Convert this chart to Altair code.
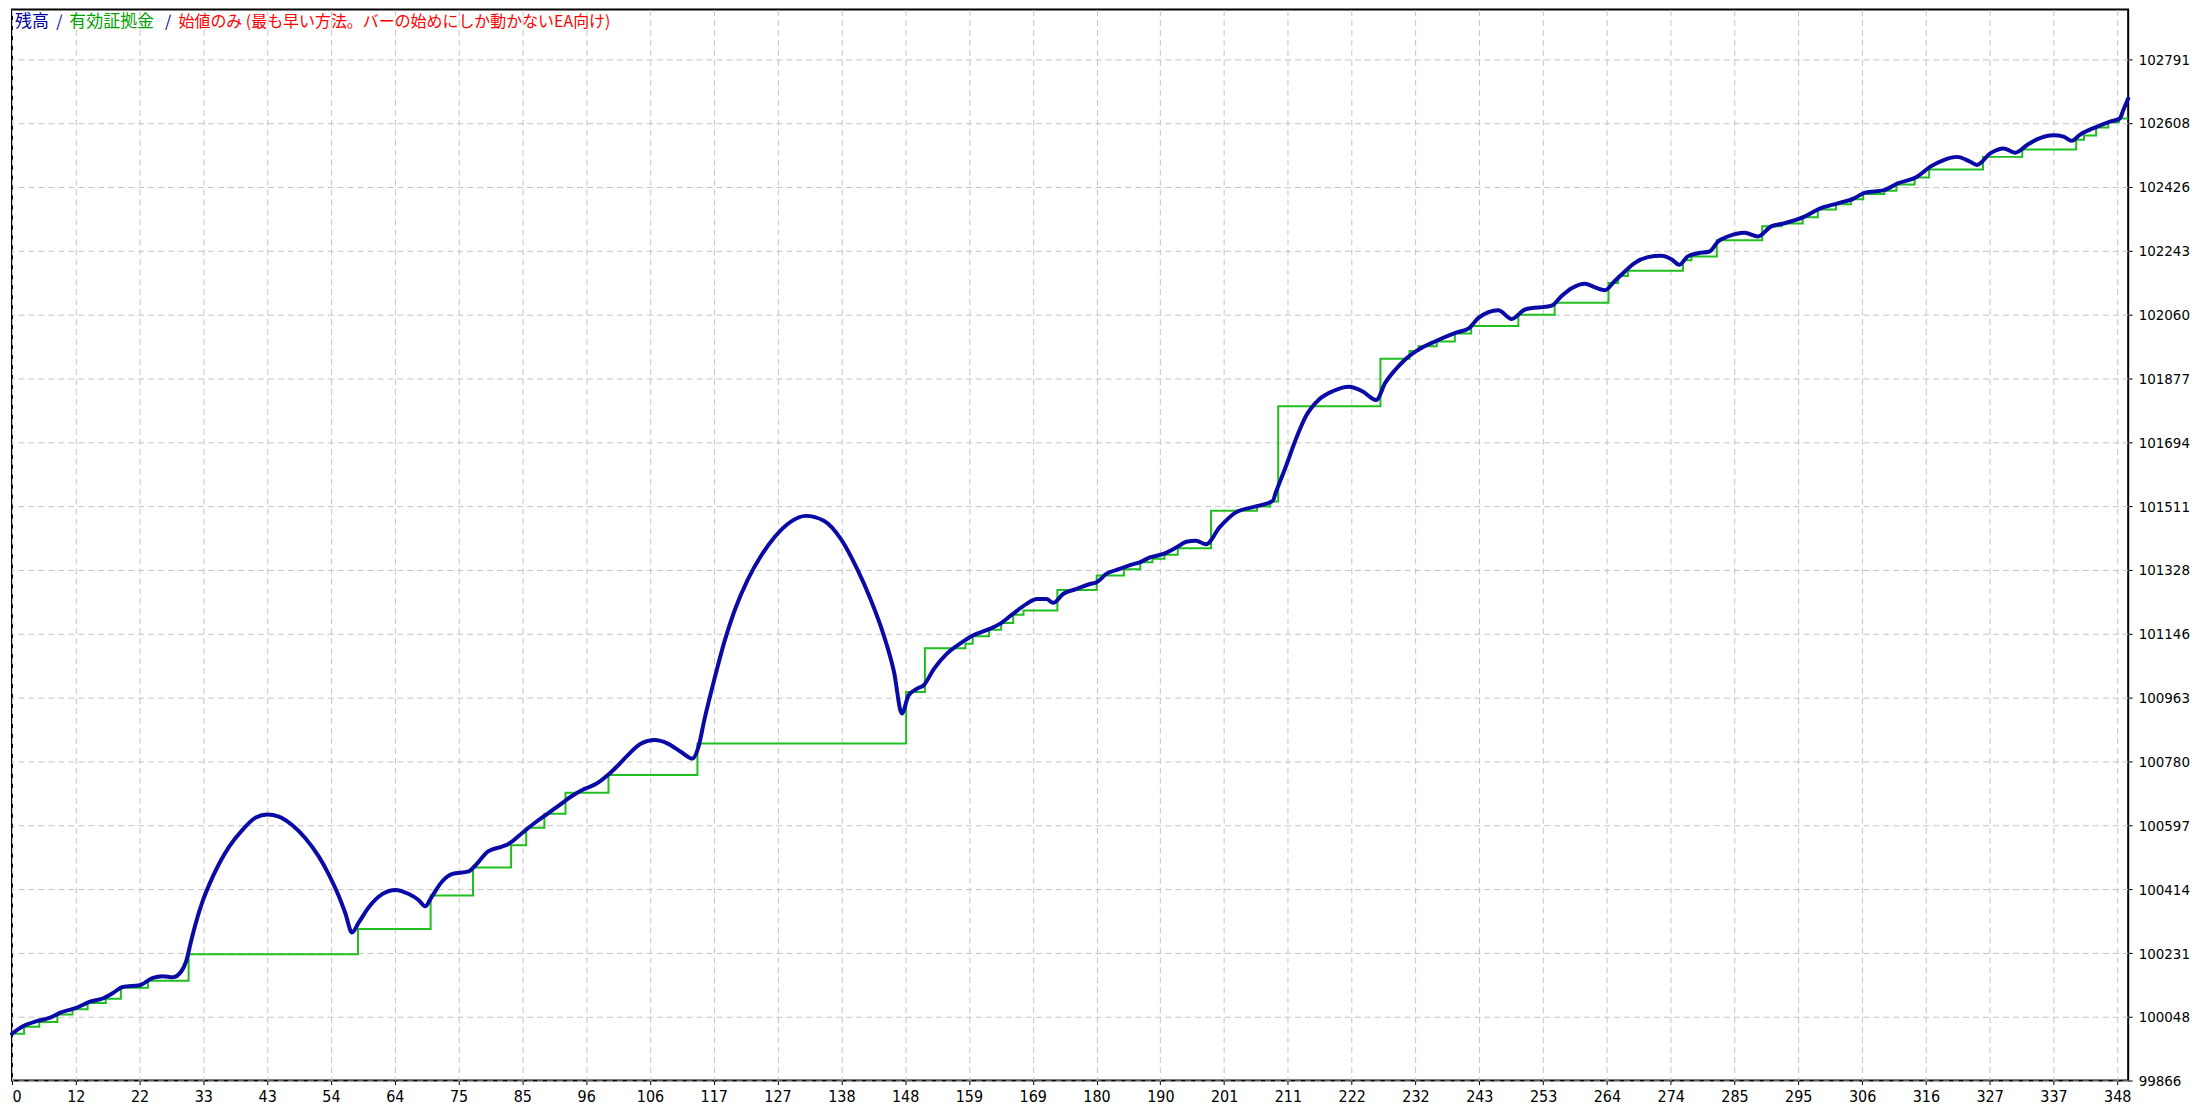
import altair as alt
import pandas as pd

# ---------------- data ----------------
BAL_TRADE = [0, 1.9, 4.1, 6.3, 7.9, 10.6, 12.9, 15.0, 16.7, 18.3, 21.1, 23.3, 24.9, 26.6, 28.0, 28.8,
             29.6, 30.4, 31.5, 32.6, 34.3, 35.9, 38.1, 40.3, 42.2, 44.1, 46.3, 48.5, 50.7, 52.4, 54.0,
             55.1, 56.2, 57.3, 59.0, 61.2, 63.4, 65.6, 67.2, 68.3, 69.4, 71.1, 72.7, 75.5, 76.6, 78.7,
             81.0, 82.0, 84.0, 86.5, 88.5, 90.5, 92.5, 94.5, 96.5, 98.5, 100.2, 101.8, 104.0, 106.2,
             108.4, 110.6, 112.5, 113.4, 114.5, 116.1, 117.8, 119.4, 121.6, 123.8, 126.0, 128.7, 131.2,
             134.2, 137.0, 139.7, 141.9, 144.1, 145.8, 147.1, 148.2, 149.6, 150.7, 152.4, 154.5, 156.7,
             158.9, 161.7, 163.5, 165.5, 167.7, 169.4, 171.0, 172.1, 173.8, 176.0, 178.2, 179.3, 180.9,
             183.1, 184.8, 186.4, 188.1, 190.3, 192.5, 194.1, 195.7, 197.4, 199.6, 202.3, 205.6, 208.4,
             208.9, 210.6, 212.2, 213.9, 216.1, 218.3, 221.0, 223.2, 225.5, 227.0, 228.7, 230.3, 232.5,
             235.3, 238.6, 240.8, 242.4, 245.7, 247.9, 250.1, 254.5, 256.1, 257.8, 260.0, 261.6, 263.3,
             264.9, 266.6, 268.2, 270.4, 272.6, 274.3, 275.6, 277.0, 278.7, 280.6, 282.0, 283.6, 286.4,
             288.6, 290.8, 293.0, 296.3, 299.0, 301.8, 304.5, 306.2, 309.5, 311.7, 314.9, 317.1, 319.3,
             321.5, 323.7, 324.8, 327.0, 329.2, 331.1, 333.1, 334.7, 337.5, 339.1, 340.5, 341.8, 344.6,
             346.8, 348.4, 349.0, 349.8]
BALANCE = [100000, 100022, 100036, 100046, 100060, 100074, 100092, 100101, 100117, 100134, 100139,
           100160, 100165, 100162, 100179, 100208, 100265, 100318, 100379, 100427, 100489, 100536,
           100584, 100619, 100628, 100622, 100598, 100560, 100508, 100455, 100395, 100345, 100290,
           100318, 100363, 100400, 100412, 100400, 100383, 100365, 100393, 100436, 100457, 100465,
           100482, 100522, 100536, 100543, 100570, 100605, 100630, 100655, 100680, 100700, 100715,
           100741, 100769, 100798, 100831, 100841, 100831, 100807, 100788, 100817, 100903, 101015,
           101125, 101210, 101300, 101368, 101421, 101466, 101483, 101469, 101417, 101331, 101245,
           101141, 101036, 100917, 100969, 100988, 100998, 101045, 101088, 101117, 101141, 101160,
           101176, 101203, 101231, 101245, 101245, 101234, 101260, 101274, 101288, 101293, 101317,
           101331, 101342, 101350, 101364, 101374, 101393, 101409, 101412, 101402, 101450, 101493,
           101510, 101526, 101550, 101626, 101702, 101769, 101817, 101840, 101853, 101840, 101815,
           101864, 101902, 101931, 101959, 101983, 102007, 102020, 102050, 102072, 102047, 102074,
           102085, 102112, 102135, 102148, 102138, 102129, 102155, 102183, 102207, 102224, 102228,
           102218, 102202, 102226, 102235, 102240, 102269, 102283, 102294, 102283, 102312, 102321,
           102340, 102364, 102378, 102392, 102408, 102416, 102435, 102454, 102483, 102502, 102511,
           102497, 102488, 102521, 102535, 102523, 102545, 102561, 102573, 102569, 102557, 102574,
           102597, 102612, 102621, 102645, 102678]

EQ_TRADE = [0, 2.0, 4.5, 7.5, 10.0, 12.5, 15.5, 18.0, 22.5, 29.2, 57.2, 69.2, 76.2, 82.5, 85.0, 88.0,
            91.5, 98.6, 113.3, 147.8, 150.9, 157.6, 158.8, 161.5, 163.5, 165.5, 167.2, 172.8, 179.3,
            183.8, 186.5, 188.5, 190.5, 192.7, 198.2, 205.8, 208.0, 209.3, 226.2, 231.0, 232.5, 235.5,
            238.5, 241.2, 249.0, 255.0, 263.9, 265.5, 267.1, 276.2, 277.6, 281.8, 289.3, 292.5, 296.0,
            298.5, 301.5, 304.0, 306.0, 309.5, 311.5, 314.5, 316.9, 325.8, 332.3, 341.2, 342.5, 344.5,
            346.5, 348.3, 349.8]
EQUITY = [100000, 100020, 100034, 100055, 100070, 100088, 100100, 100132, 100152, 100228, 100300,
          100396, 100476, 100540, 100590, 100630, 100690, 100741, 100831, 100979, 101104, 101117,
          101138, 101157, 101176, 101200, 101212, 101271, 101312, 101330, 101350, 101360, 101372,
          101390, 101498, 101510, 101524, 101797, 101933, 101955, 101969, 101982, 102005, 102027,
          102059, 102093, 102150, 102170, 102185, 102215, 102226, 102272, 102312, 102320, 102338,
          102360, 102375, 102390, 102405, 102414, 102432, 102452, 102475, 102511, 102532, 102560,
          102572, 102595, 102610, 102621, 102621]

X_TICK_LABELS = [0, 12, 22, 33, 43, 54, 64, 75, 85, 96, 106, 117, 127, 138, 148, 159, 169, 180,
                 190, 201, 211, 222, 232, 243, 253, 264, 274, 285, 295, 306, 316, 327, 337, 348]
Y_TICK_LABELS = [99866, 100048, 100231, 100414, 100597, 100780, 100963, 101146, 101328, 101511,
                 101694, 101877, 102060, 102243, 102426, 102608, 102791]

LEGEND_PARTS = ["残高", "/", "有効証拠金", "/", "始値のみ (最も早い方法。バーの始めにしか動かないEA向け)"]

# ---------------- chart ----------------
W, H = 2122, 1074
BLUE = "#0a0aa6"
GREEN = "#1fbf1f"
GRID = "#c4c4c4"
AXFONT = "DejaVu Sans Condensed, DejaVu Sans"

bal_df = pd.DataFrame({"trade": BAL_TRADE, "value": BALANCE, "series": "残高"})
eq_df = pd.DataFrame({"trade": EQ_TRADE, "value": EQUITY, "series": "有効証拠金"})

last = X_TICK_LABELS[-1]
n_int = len(X_TICK_LABELS) - 1
x_tick_pos = [k * last / n_int for k in range(len(X_TICK_LABELS))]
x_label_expr = f"{X_TICK_LABELS}[round(datum.value * {n_int} / {last})]"

x_scale = alt.Scale(domain=[0, 349.8], nice=False, zero=False)
y_scale = alt.Scale(domain=[99866, 102933], nice=False, zero=False)

x_axis = alt.Axis(values=x_tick_pos, labelExpr=x_label_expr, title=None, grid=True,
                  gridColor=GRID, gridDash=[6, 4], gridWidth=1, domain=False,
                  ticks=True, tickColor="#000", tickSize=4, tickWidth=1,
                  labelFont=AXFONT, labelFontSize=16, labelColor="#000", labelPadding=4,
                  labelFlush=1, labelOverlap=False)
y_axis = alt.Axis(values=Y_TICK_LABELS, format="d", title=None, orient="right", grid=True,
                  gridColor=GRID, gridDash=[6, 4], gridWidth=1, domain=False,
                  ticks=True, tickColor="#000", tickSize=4, tickWidth=1,
                  labelFont=AXFONT, labelFontSize=15, labelColor="#000", labelPadding=6,
                  labelOverlap=False)

equity = alt.Chart(eq_df).mark_line(color=GREEN, strokeWidth=2, interpolate="step-after").encode(
    x=alt.X("trade:Q", scale=x_scale, axis=x_axis),
    y=alt.Y("value:Q", scale=y_scale, axis=y_axis),
)
balance = alt.Chart(bal_df).mark_line(color=BLUE, strokeWidth=4, strokeJoin="round",
                                      strokeCap="round", interpolate="monotone").encode(
    x=alt.X("trade:Q", scale=x_scale),
    y=alt.Y("value:Q", scale=y_scale),
)

legend_x = [3, 44.5, 57.5, 153.5, 167]
legend_sizes = [17, 16, 17, 16, 16]
legend_colors = ["#00009c", "#00009c", "#00a000", "#00009c", "#ff0000"]
legend_layers = []
for txt, px, fs, col in zip(LEGEND_PARTS, legend_x, legend_sizes, legend_colors):
    legend_layers.append(
        alt.Chart(pd.DataFrame({"t": [txt]})).mark_text(
            align="left", baseline="middle", font="Noto Sans CJK JP", fontSize=fs, color=col
        ).encode(text="t:N", x=alt.value(px), y=alt.value(13))
    )

chart = alt.layer(equity, balance, *legend_layers).properties(
    width=W, height=H, padding={"left": 0, "top": 0, "right": 2, "bottom": 0},
    background="#ffffff"
).configure_view(stroke="#000000", strokeWidth=2)

chart.save("out.html", embed_options={"renderer": "svg", "actions": False})
